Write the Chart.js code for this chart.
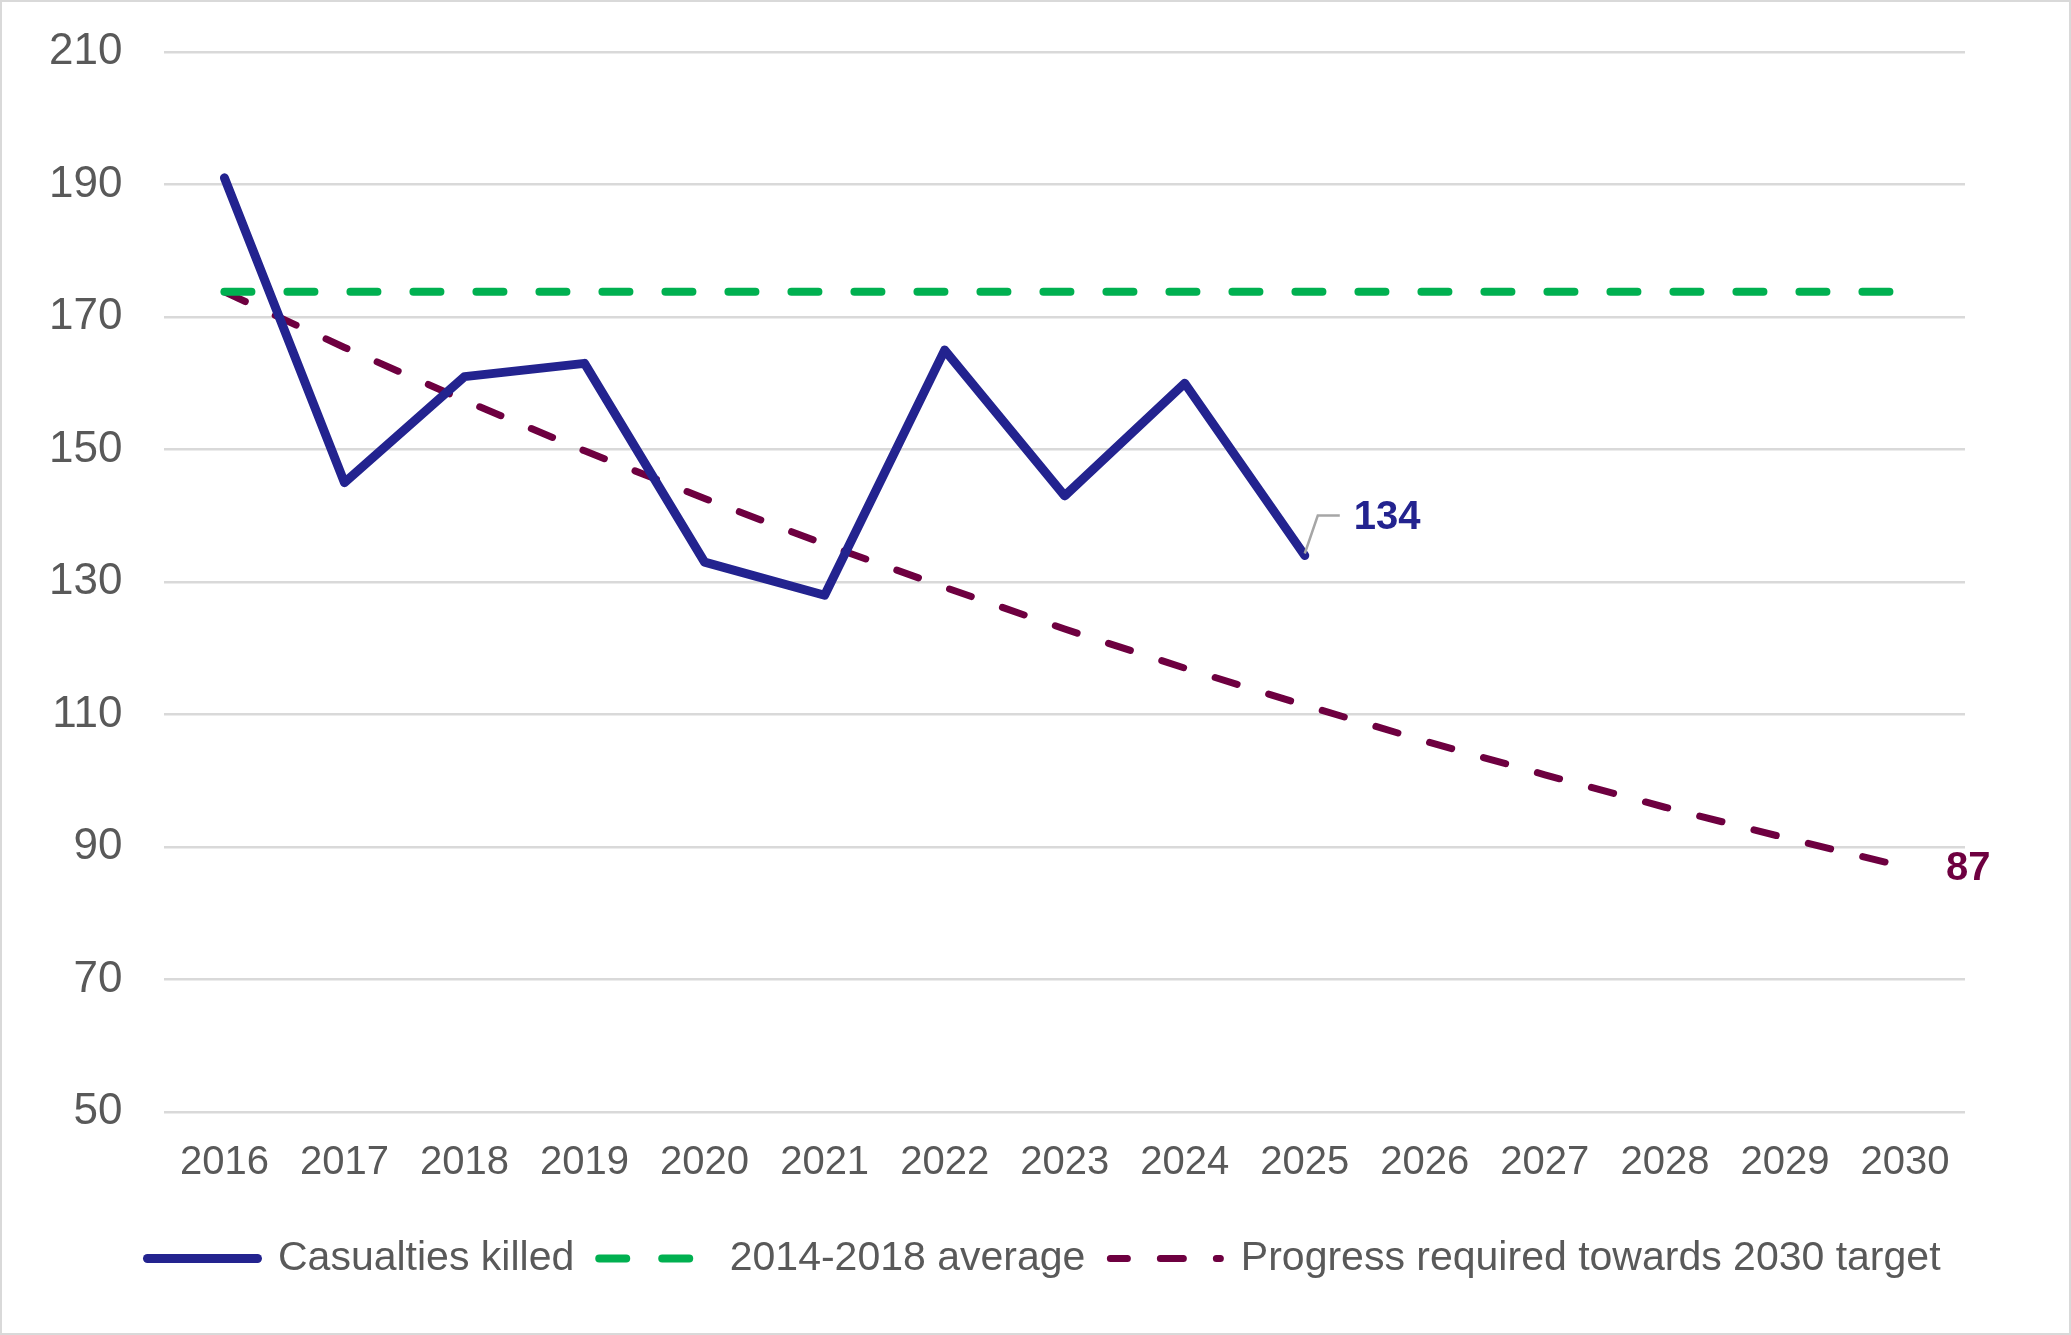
<!DOCTYPE html>
<html>
<head>
<meta charset="utf-8">
<script src="https://cdn.jsdelivr.net/npm/chart.js@4.4.1/dist/chart.umd.min.js"></script>
<style>
  html, body { margin: 0; padding: 0; background: #fff; }
  #wrap {
    position: relative;
    width: 2071px;
    height: 1335px;
    box-sizing: border-box;
    border: 2px solid #d9d9d9;
  }
</style>
</head>
<body>
<div id="wrap"><canvas id="chart"></canvas></div>
<script>
const years = ['2016', '2017', '2018', '2019', '2020', '2021', '2022', '2023', '2024', '2025', '2026', '2027', '2028', '2029', '2030'];
const killed = [191, 145, 161, 163, 133, 128, 165, 143, 160, 134];
const average = [173.8, 173.8, 173.8, 173.8, 173.8, 173.8, 173.8, 173.8, 173.8, 173.8, 173.8, 173.8, 173.8, 173.8, 173.8];
const target = [173.8, 165.4, 157.4, 149.8, 142.6, 135.7, 129.2, 122.9, 117.0, 111.4, 106.0, 100.9, 96.0, 91.4, 87.0];
const yTicks = [50, 70, 90, 110, 130, 150, 170, 190, 210];

const NAVY = '#23238f';
const GREEN = '#00b050';
const MAROON = '#6e0040';
const GREY = '#595959';
const FONT = '"Liberation Sans", Arial, sans-serif';

// labels for the last real value and the 2030 target
const endLabels = {
  id: 'endLabels',
  afterDatasetsDraw(chart) {
    const ctx = chart.ctx;
    const p = chart.getDatasetMeta(0).data[killed.length - 1];
    const t = chart.getDatasetMeta(2).data[target.length - 1];
    ctx.save();
    ctx.strokeStyle = '#a6a6a6';
    ctx.lineWidth = 2.5;
    ctx.beginPath();
    ctx.moveTo(p.x, p.y - 2);
    ctx.lineTo(p.x + 13, p.y - 40);
    ctx.lineTo(p.x + 35, p.y - 40);
    ctx.stroke();
    ctx.font = 'bold 40px ' + FONT;
    ctx.textBaseline = 'middle';
    ctx.textAlign = 'left';
    ctx.fillStyle = NAVY;
    ctx.fillText(String(killed[killed.length - 1]), p.x + 49, p.y - 38);
    ctx.fillStyle = MAROON;
    ctx.fillText(String(target[target.length - 1]), t.x + 41, t.y + 2);
    ctx.restore();
  }
};

// the legend row sits a bit right of the plot centre in the original
const shiftLegend = {
  id: 'shiftLegend',
  afterLayout(chart) {
    const d = 58;
    chart.legend.left += d;
    chart.legend.right += d;
  }
};

new Chart(document.getElementById('chart'), {
  type: 'line',
  data: {
    labels: years,
    datasets: [
      {
        label: 'Casualties killed',
        data: killed,
        borderColor: NAVY,
        borderWidth: 9,
        borderCapStyle: 'round',
        borderJoinStyle: 'round',
        pointRadius: 0,
        tension: 0
      },
      {
        label: '2014-2018 average',
        data: average,
        borderColor: GREEN,
        borderWidth: 8,
        borderDash: [27, 36],
        borderCapStyle: 'round',
        pointRadius: 0
      },
      {
        label: 'Progress required towards 2030 target',
        data: target,
        borderColor: MAROON,
        borderWidth: 7,
        borderDash: [23, 33],
        borderCapStyle: 'round',
        pointRadius: 0
      }
    ]
  },
  options: {
    responsive: true,
    maintainAspectRatio: false,
    animation: false,
    layout: {
      padding: { left: 5, right: 104, top: 50, bottom: 44 }
    },
    scales: {
      x: {
        offset: true,
        grid: { display: false },
        border: { display: false },
        ticks: {
          color: GREY,
          font: { family: FONT, size: 40 },
          padding: 19,
          maxRotation: 0,
          autoSkip: false
        },
        afterFit(scale) {
          scale.paddingLeft = 0;
          scale.paddingRight = 0;
          scale.height += 7;
        }
      },
      y: {
        min: 50,
        max: 210,
        afterBuildTicks(scale) {
          scale.ticks = yTicks.map(v => ({ value: v }));
        },
        afterFit(scale) {
          scale.paddingTop = 0;
          scale.paddingBottom = 0;
        },
        grid: {
          color: '#d9d9d9',
          lineWidth: 2.5,
          drawTicks: false
        },
        border: { display: false },
        ticks: {
          color: GREY,
          font: { family: FONT, size: 44 },
          padding: 42
        }
      }
    },
    plugins: {
      legend: {
        position: 'bottom',
        labels: {
          color: GREY,
          font: { family: FONT, size: 41 },
          usePointStyle: true,
          pointStyleWidth: 110,
          padding: 25,
          generateLabels(chart) {
            return chart.data.datasets.map((ds, i) => ({
              text: ds.label,
              datasetIndex: i,
              pointStyle: 'line',
              rotation: 180,
              strokeStyle: ds.borderColor,
              fillStyle: ds.borderColor,
              lineWidth: ds.borderWidth,
              lineDash: ds.borderDash || [],
              lineDashOffset: i === 2 ? 6 : 0,
              lineCap: 'round',
              fontColor: GREY,
              hidden: false
            }));
          }
        }
      },
      tooltip: { enabled: false }
    }
  },
  plugins: [endLabels, shiftLegend]
});
</script>
</body>
</html>
